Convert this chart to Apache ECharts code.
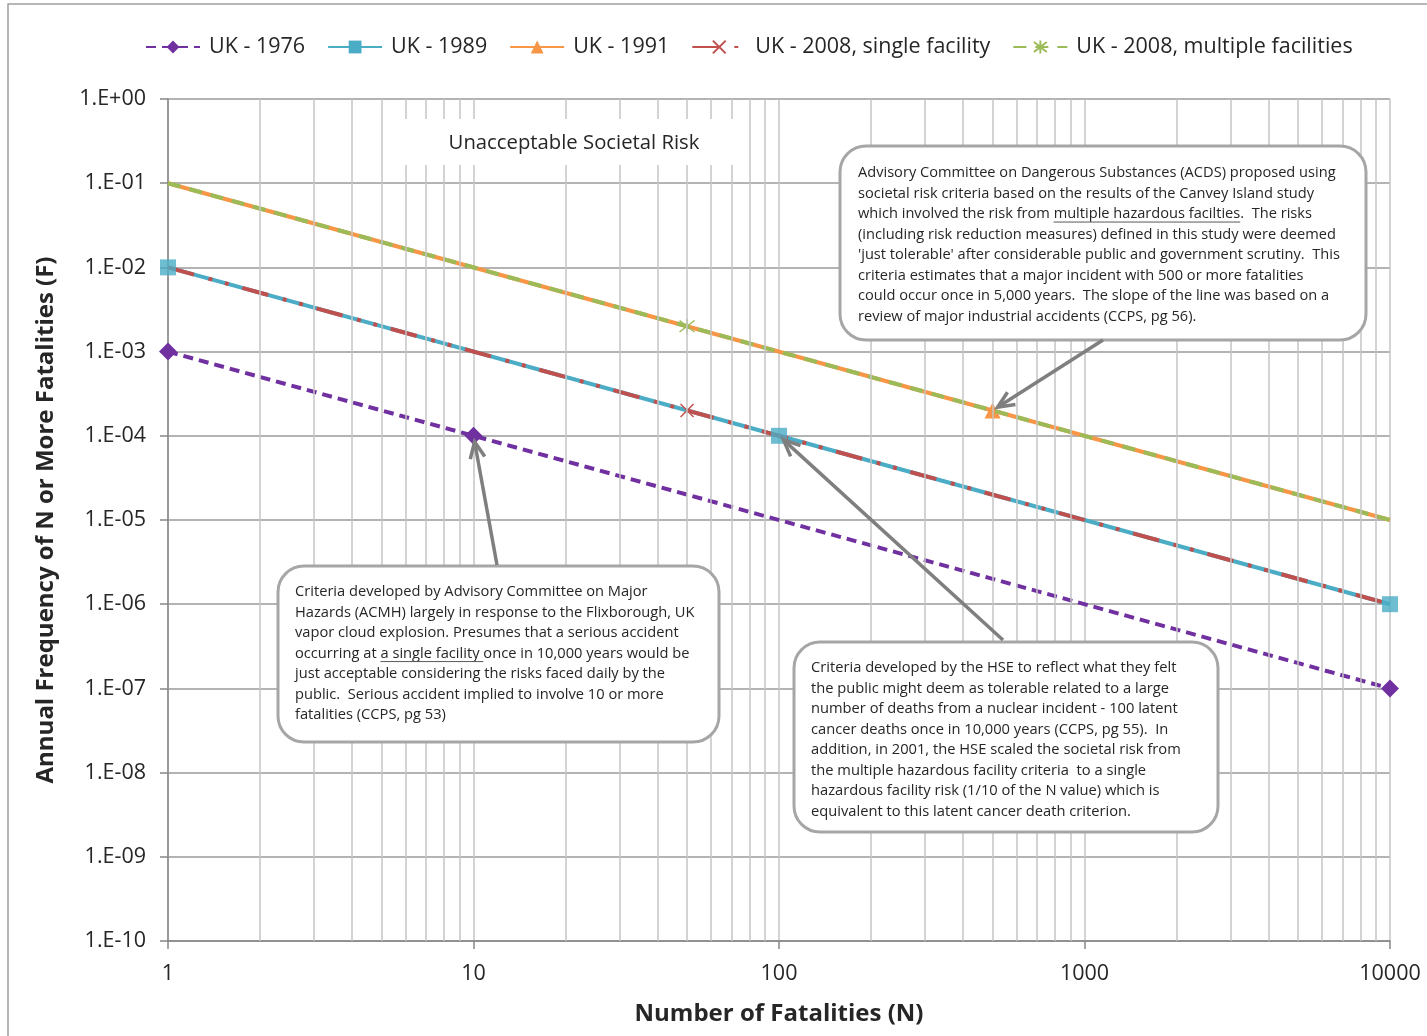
<!DOCTYPE html>
<html>
<head>
<meta charset="utf-8">
<script src="https://cdn.jsdelivr.net/npm/echarts@6/dist/echarts.min.js"></script>
<style>
html,body{margin:0;padding:0;background:#fff;}
#chart{width:1427px;height:1036px;}
</style>
</head>
<body>
<div id="chart"></div>
<script>
// ---------- data ----------
const seriesNames = ['UK - 1976', 'UK - 1989', 'UK - 1991', 'UK - 2008, single facility', 'UK - 2008, multiple facilities'];
const n1976 = [1, 10, 10000];
const f1976 = [1e-3, 1e-4, 1e-7];
const n1989 = [1, 100, 10000];
const f1989 = [1e-2, 1e-4, 1e-6];
const n1991 = [1, 500, 10000];
const f1991 = [1e-1, 2e-4, 1e-5];
const n2008s = [1, 50, 10000];
const f2008s = [1e-2, 2e-4, 1e-6];
const n2008m = [1, 50, 10000];
const f2008m = [1e-1, 2e-3, 1e-5];
const xTickLabels = [1, 10, 100, 1000, 10000];
const xMinorGrid = [2,3,4,5,6,7,8,9,20,30,40,50,60,70,80,90,200,300,400,500,600,700,800,900,2000,3000,4000,5000,6000,7000,8000,9000];
const titleText = 'Unacceptable Societal Risk';
const xName = 'Number of Fatalities (N)';
const yName = 'Annual Frequency of N or More Fatalities (F)';
const noteACDS = [
 'Advisory Committee on Dangerous Substances (ACDS) proposed using',
 'societal risk criteria based on the results of the Canvey Island study',
 'which involved the risk from multiple hazardous facilties.  The risks',
 '(including risk reduction measures) defined in this study were deemed',
 "'just tolerable' after considerable public and government scrutiny.  This",
 'criteria estimates that a major incident with 500 or more fatalities',
 'could occur once in 5,000 years.  The slope of the line was based on a',
 'review of major industrial accidents (CCPS, pg 56).'
];
const noteACMH = [
 'Criteria developed by Advisory Committee on Major',
 'Hazards (ACMH) largely in response to the Flixborough, UK',
 'vapor cloud explosion. Presumes that a serious accident',
 'occurring at a single facility once in 10,000 years would be',
 'just acceptable considering the risks faced daily by the',
 'public.  Serious accident implied to involve 10 or more',
 'fatalities (CCPS, pg 53)'
];
const noteHSE = [
 'Criteria developed by the HSE to reflect what they felt',
 'the public might deem as tolerable related to a large',
 'number of deaths from a nuclear incident - 100 latent',
 'cancer deaths once in 10,000 years (CCPS, pg 55).  In',
 'addition, in 2001, the HSE scaled the societal risk from',
 'the multiple hazardous facility criteria  to a single',
 'hazardous facility risk (1/10 of the N value) which is',
 'equivalent to this latent cancer death criterion.'
];

// ---------- helpers ----------
const FONT = '"Open Sans", "Noto Sans", sans-serif';
const TXT = '#262626';
function pairs(xs, ys){ return xs.map((x,i)=>[x, ys[i]]); }
function middleOnly(xs, ys){
  return xs.map((x,i)=>({value:[x, ys[i]], symbol: i===1 ? undefined : 'none'}));
}
const cv = document.createElement('canvas').getContext('2d');
function measure(t, size){ cv.font = size + 'px ' + FONT; return cv.measureText(t).width; }
function fitSize(t, target){ return 14 * target / measure(t, 14); }
function yLabel(v){
  const e = Math.round(Math.log10(v));
  const a = Math.abs(e);
  return '1.E' + (e >= 0 ? '+' : '-') + (a < 10 ? '0' + a : '' + a);
}

const chart = echarts.init(document.getElementById('chart'), null, {renderer:'canvas'});

const xPath = 'path://M0,0L10,10M10,0L0,10';
const starPath = 'path://M0,0L10,10M10,0L0,10M5,-1.5L5,11.5';

const option = {
  animation: false,
  backgroundColor: '#fff',
  grid: {left: 168, right: 37, top: 99, bottom: 95, containLabel: false},
  legend: {
    data: seriesNames,
    left: 140, top: 31,
    itemWidth: 54, itemHeight: 16, itemGap: 22,
    textStyle: {fontFamily: FONT, fontSize: 21.5, color: TXT, padding: [0,0,0,4]}
  },
  xAxis: {
    type: 'log', logBase: 10, min: 1, max: 10000, interval: 1,
    axisLine: {show: true, onZero: false, lineStyle: {color: '#868686', width: 1.5}},
    axisTick: {show: true, length: 8, lineStyle: {color: '#868686', width: 1.5}},
    axisLabel: {
      margin: 22, fontFamily: FONT, fontSize: 21.5, color: TXT,
      formatter: v => { const r = xTickLabels.find(t => Math.abs(Math.log10(t) - Math.log10(v)) < 1e-6); return r != null ? String(r) : ''; },
      showMinLabel: true, showMaxLabel: true
    },
    splitLine: {show: true, lineStyle: {color: '#c4c4c4', width: 1.5}},
    name: xName, nameLocation: 'middle', nameGap: 61,
    nameTextStyle: {fontFamily: FONT, fontSize: 24, fontWeight: 'bold', color: TXT}
  },
  yAxis: {
    type: 'log', logBase: 10, min: 1e-10, max: 1, interval: 1,
    axisLine: {show: true, onZero: false, lineStyle: {color: '#868686', width: 1.5}},
    axisTick: {show: true, length: 8, lineStyle: {color: '#868686', width: 1.5}},
    axisLabel: {margin: 22, fontFamily: FONT, fontSize: 21.5, color: TXT, formatter: yLabel, showMinLabel: true, showMaxLabel: true},
    splitLine: {show: true, lineStyle: {color: '#9a9a9a', width: 1.5}},
    name: yName, nameLocation: 'middle', nameGap: 110, nameRotate: 90,
    nameTextStyle: {fontFamily: FONT, fontSize: 24, fontWeight: 'bold', color: TXT}
  },
  series: [
    {
      name: seriesNames[0], type: 'line', data: pairs(n1976, f1976), z: 3,
      symbol: 'diamond', symbolSize: 18,
      lineStyle: {color: '#7030A0', width: 4, type: [10, 6]},
      itemStyle: {color: '#7030A0'}
    },
    {
      name: seriesNames[1], type: 'line', data: pairs(n1989, f1989), z: 3,
      symbol: 'rect', symbolSize: 16, showSymbol: false,
      lineStyle: {color: '#4BACC6', width: 4, type: 'solid'},
      itemStyle: {color: '#4BACC6'}
    },
    {
      name: seriesNames[2], type: 'line', data: middleOnly(n1991, f1991), z: 3,
      symbol: 'triangle', symbolSize: 16,
      lineStyle: {color: '#F79646', width: 4, type: 'solid'},
      itemStyle: {color: '#F79646'}
    },
    {
      name: seriesNames[3], type: 'line', data: middleOnly(n2008s, f2008s), z: 4,
      symbol: xPath, symbolSize: 13,
      lineStyle: {color: '#C0504D', width: 4, type: [27, 15, 4, 13, 4, 14]},
      itemStyle: {color: 'none', borderColor: '#C0504D', borderWidth: 1.5}
    },
    {
      name: seriesNames[4], type: 'line', data: middleOnly(n2008m, f2008m), z: 4,
      symbol: starPath, symbolSize: 15,
      lineStyle: {color: '#9BBB59', width: 4, type: [13, 9]},
      itemStyle: {color: 'none', borderColor: '#9BBB59', borderWidth: 1.5}
    },
    {
      name: seriesNames[1], type: 'scatter', data: pairs(n1989, f1989), z: 5,
      symbol: 'rect', symbolSize: 16, itemStyle: {color: '#4BACC6'}, silent: true
    },
    {
      name: 'minorGrid', type: 'line', data: [], z: 1, silent: true,
      markLine: {
        silent: true, symbol: ['none', 'none'], label: {show: false},
        lineStyle: {color: '#c4c4c4', width: 1.5, type: 'solid'},
        data: xMinorGrid.map(v => ({xAxis: v}))
      }
    }
  ]
};
chart.setOption(option);

// ---------- annotations ----------
const graphics = [];
graphics.push({type:'rect', shape:{x:8, y:4, width:1440, height:1060}, style:{fill:'none', stroke:'#a0a0a0', lineWidth:1.5}, z:100, silent:true});
graphics.push({type:'rect', shape:{x:405, y:119, width:336, height:46}, style:{fill:'#fff'}, z:100, silent:true});
graphics.push({type:'text', style:{text:titleText, x:574, y:143, align:'center', verticalAlign:'middle', font: '20.3px ' + FONT, fill: TXT}, z:101, silent:true});

function addBox(x, y, w, h, lines, tx, ty, targetLine, targetW, underline){
  graphics.push({type:'rect', shape:{x, y, width:w, height:h, r:26}, style:{fill:'#fff', stroke:'#a6a6a6', lineWidth:3}, z:100, silent:true});
  const size = fitSize(lines[targetLine], targetW);
  const lh = 20.5;
  lines.forEach((t, i) => {
    graphics.push({type:'text', style:{text:t, x:tx, y:ty + i*lh, align:'left', verticalAlign:'middle', font: size.toFixed(2) + 'px ' + FONT, fill: TXT}, z:101, silent:true});
  });
  if (underline){
    const [li, pre, word] = underline;
    const x0 = tx + measure(pre, size);
    const x1 = x0 + measure(word, size);
    const yy = ty + li*lh + size*0.55;
    graphics.push({type:'line', shape:{x1:x0, y1:yy, x2:x1, y2:yy}, style:{stroke:'#595959', lineWidth:1}, z:101, silent:true});
  }
}
addBox(840, 146, 526, 194, noteACDS, 858, 173, 0, 478, [2, 'which involved the risk from ', 'multiple hazardous facilties']);
addBox(278, 566, 441, 176, noteACMH, 295, 592, 1, 400, [3, 'occurring at ', 'a single facility ']);
addBox(794, 642, 424, 190, noteHSE, 811, 668, 4, 370, null);

function addArrow(x0, y0, pt){
  const p = chart.convertToPixel({xAxisIndex:0, yAxisIndex:0}, pt);
  let dx = p[0] - x0, dy = p[1] - y0;
  const L = Math.hypot(dx, dy); dx /= L; dy /= L;
  const tip = [p[0] - dx*6, p[1] - dy*6];
  const head = 18, ang = 0.42;
  const cos = Math.cos(ang), sin = Math.sin(ang);
  const bx = -dx, by = -dy;
  const h1 = [tip[0] + head*(bx*cos - by*sin), tip[1] + head*(bx*sin + by*cos)];
  const h2 = [tip[0] + head*(bx*cos + by*sin), tip[1] + head*(-bx*sin + by*cos)];
  graphics.push({type:'polyline', shape:{points:[[x0,y0], tip]}, style:{stroke:'#7f7f7f', lineWidth:3.5, fill:'none'}, z:102, silent:true});
  graphics.push({type:'polyline', shape:{points:[h1, tip, h2]}, style:{stroke:'#7f7f7f', lineWidth:3.5, fill:'none', lineJoin:'miter'}, z:102, silent:true});
}
addArrow(1103, 340, [n1991[1], f1991[1]]);
addArrow(497, 565, [n1976[1], f1976[1]]);
addArrow(1003, 640, [n1989[1], f1989[1]]);

chart.setOption({graphic: {elements: graphics}});
</script>
</body>
</html>
